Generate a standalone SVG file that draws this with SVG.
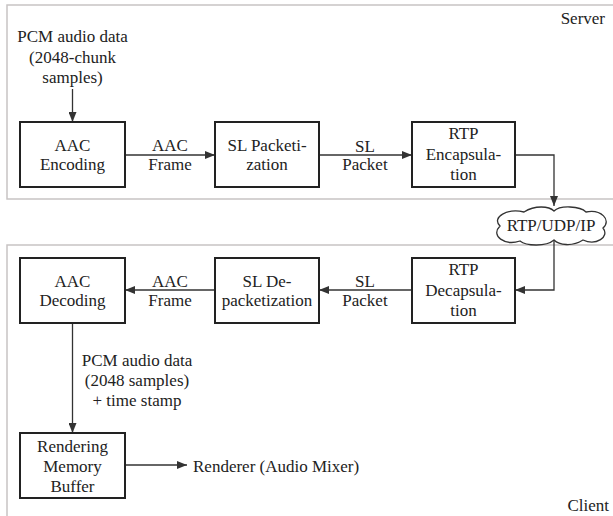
<svg xmlns="http://www.w3.org/2000/svg" width="613" height="516" viewBox="0 0 613 516">
<defs>
<style>
.box{fill:#fff;stroke:#222;stroke-width:2;}
.panel{fill:none;stroke:#c8c4c4;stroke-width:1.5;}
.conn{fill:none;stroke:#333;stroke-width:1.3;}
</style>
<marker id="arr" viewBox="0 0 10 8" refX="10" refY="4" markerWidth="10" markerHeight="8" markerUnits="userSpaceOnUse" orient="auto">
<path d="M0,0 L10,4 L0,8 Z" fill="#333"/>
</marker>
</defs>
<rect width="613" height="516" fill="#fff"/>
<g id="panels">
<path class="panel" d="M613,5 H7 V199 H613"/>
<path class="panel" d="M613,245 H7 V516"/>
<text x="605" y="24" text-anchor="end" font-family="Liberation Serif" font-size="17" fill="#222">Server</text>
<text x="609" y="511" text-anchor="end" font-family="Liberation Serif" font-size="17" fill="#222">Client</text>
</g>
<g id="connectors">
<line class="conn" x1="72.5" y1="89" x2="72.5" y2="122" marker-end="url(#arr)"/>
<line class="conn" x1="125" y1="155" x2="215" y2="155" marker-end="url(#arr)"/>
<line class="conn" x1="319" y1="155" x2="412" y2="155" marker-end="url(#arr)"/>
<path class="conn" d="M515,155 H554 V206" marker-end="url(#arr)"/>
<path class="conn" d="M554,240 V290 H515" marker-end="url(#arr)"/>
<line class="conn" x1="412" y1="290" x2="319" y2="290" marker-end="url(#arr)"/>
<line class="conn" x1="215" y1="290" x2="125" y2="290" marker-end="url(#arr)"/>
<line class="conn" x1="72.5" y1="323" x2="72.5" y2="433" marker-end="url(#arr)"/>
<line class="conn" x1="125" y1="465" x2="187" y2="465" marker-end="url(#arr)"/>
<text x="170" y="151" text-anchor="middle" font-family="Liberation Serif" font-size="17" fill="#222">AAC</text>
<text x="170" y="170" text-anchor="middle" font-family="Liberation Serif" font-size="17" fill="#222">Frame</text>
<text x="365" y="152" text-anchor="middle" font-family="Liberation Serif" font-size="17" fill="#222">SL</text>
<text x="365" y="170" text-anchor="middle" font-family="Liberation Serif" font-size="17" fill="#222">Packet</text>
<text x="365" y="287" text-anchor="middle" font-family="Liberation Serif" font-size="17" fill="#222">SL</text>
<text x="365" y="306" text-anchor="middle" font-family="Liberation Serif" font-size="17" fill="#222">Packet</text>
<text x="170" y="287" text-anchor="middle" font-family="Liberation Serif" font-size="17" fill="#222">AAC</text>
<text x="170" y="306" text-anchor="middle" font-family="Liberation Serif" font-size="17" fill="#222">Frame</text>
<text x="137" y="366" text-anchor="middle" font-family="Liberation Serif" font-size="17" fill="#222">PCM audio data</text>
<text x="137" y="386" text-anchor="middle" font-family="Liberation Serif" font-size="17" fill="#222">(2048 samples)</text>
<text x="137" y="406" text-anchor="middle" font-family="Liberation Serif" font-size="17" fill="#222">+ time stamp</text>
<text x="193" y="472" font-family="Liberation Serif" font-size="17" fill="#222">Renderer (Audio Mixer)</text>
</g>
<g id="pcm-input">
<text x="72.5" y="42" text-anchor="middle" font-family="Liberation Serif" font-size="17" fill="#222">PCM audio data</text>
<text x="72.5" y="63" text-anchor="middle" font-family="Liberation Serif" font-size="17" fill="#222">(2048-chunk</text>
<text x="72.5" y="83" text-anchor="middle" font-family="Liberation Serif" font-size="17" fill="#222">samples)</text>
</g>
<g id="aac-encoding">
<rect class="box" x="20" y="122" width="105" height="65"/>
<text x="72.5" y="151" text-anchor="middle" font-family="Liberation Serif" font-size="17" fill="#222">AAC</text>
<text x="72.5" y="170" text-anchor="middle" font-family="Liberation Serif" font-size="17" fill="#222">Encoding</text>
</g>
<g id="sl-packetization">
<rect class="box" x="215" y="122" width="104" height="65"/>
<text x="267" y="151" text-anchor="middle" font-family="Liberation Serif" font-size="17" fill="#222">SL Packeti-</text>
<text x="267" y="170" text-anchor="middle" font-family="Liberation Serif" font-size="17" fill="#222">zation</text>
</g>
<g id="rtp-encapsulation">
<rect class="box" x="412" y="122" width="103" height="65"/>
<text x="463.5" y="139" text-anchor="middle" font-family="Liberation Serif" font-size="17" fill="#222">RTP</text>
<text x="463.5" y="160" text-anchor="middle" font-family="Liberation Serif" font-size="17" fill="#222">Encapsula-</text>
<text x="463.5" y="180" text-anchor="middle" font-family="Liberation Serif" font-size="17" fill="#222">tion</text>
</g>
<g id="network">
<path d="M500,226 C491,217 508,208 524,212 C535,205 549,206 554,211 C560,205 580,206 586,212 C601,209 612,220 603,228 C610,237 596,246 583,240 C572,247 559,245 554,240 C546,247 526,246 520,241 C505,246 490,236 500,226 Z" fill="#fff" stroke="#333" stroke-width="1.3"/>
<text x="551" y="231" text-anchor="middle" font-family="Liberation Serif" font-size="17" fill="#222">RTP/UDP/IP</text>
</g>
<g id="rtp-decapsulation">
<rect class="box" x="412" y="258" width="103" height="65"/>
<text x="463.5" y="275" text-anchor="middle" font-family="Liberation Serif" font-size="17" fill="#222">RTP</text>
<text x="463.5" y="296" text-anchor="middle" font-family="Liberation Serif" font-size="17" fill="#222">Decapsula-</text>
<text x="463.5" y="316" text-anchor="middle" font-family="Liberation Serif" font-size="17" fill="#222">tion</text>
</g>
<g id="sl-depacketization">
<rect class="box" x="215" y="258" width="104" height="65"/>
<text x="267" y="287" text-anchor="middle" font-family="Liberation Serif" font-size="17" fill="#222">SL De-</text>
<text x="267" y="306" text-anchor="middle" font-family="Liberation Serif" font-size="17" fill="#222">packetization</text>
</g>
<g id="aac-decoding">
<rect class="box" x="20" y="258" width="105" height="65"/>
<text x="72.5" y="287" text-anchor="middle" font-family="Liberation Serif" font-size="17" fill="#222">AAC</text>
<text x="72.5" y="306" text-anchor="middle" font-family="Liberation Serif" font-size="17" fill="#222">Decoding</text>
</g>
<g id="rendering-buffer">
<rect class="box" x="20" y="433" width="105" height="65"/>
<text x="72.5" y="452" text-anchor="middle" font-family="Liberation Serif" font-size="17" fill="#222">Rendering</text>
<text x="72.5" y="472" text-anchor="middle" font-family="Liberation Serif" font-size="17" fill="#222">Memory</text>
<text x="72.5" y="492" text-anchor="middle" font-family="Liberation Serif" font-size="17" fill="#222">Buffer</text>
</g>
</svg>
